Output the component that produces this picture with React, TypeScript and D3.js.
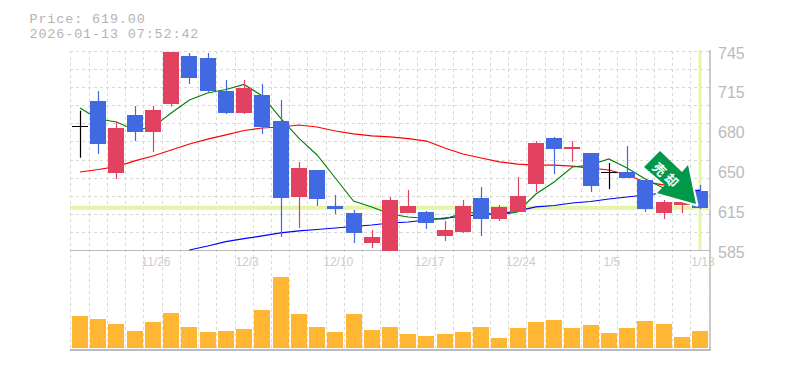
import React from "react";
import * as d3 from "d3";

const opens = [684.3,670.2,646.9,679.9,679.9,702.4,723.3,712.8,695.1,695.1,683.9,626.8,627.6,626,618,598.7,590.6,584.2,614.7,606.7,596.3,599.5,609.9,609.9,615.6,638.1,666.2,666.2,636.5,647.7,642.9,618,614.7,621.2,618.8];
const closes = [684.3,704.8,683.1,693.5,697.6,744.2,741,739.4,712.8,715.2,709.6,688.7,650.9,649.3,620.4,614.7,595.5,625.2,620.4,615.6,601.1,620.4,626.8,619.6,628.4,671,675,667.8,663,647.7,647.7,641.3,623.6,623.6,632.4];
const closesAreBlue = [0,1,0,1,0,0,1,1,1,0,1,1,0,1,1,1,0,0,0,1,0,0,1,0,0,0,1,0,1,0,1,1,0,0,1];
const highs = [697,712.8,688.3,700.8,700.8,744.2,743.4,743.4,721.7,721.7,718.5,705.6,655.8,649.3,629.2,617.2,601.1,627.6,633.2,616.4,608.3,625.2,635.7,621.2,643.7,672.6,675.9,672.6,663,654.9,668.6,641.3,625.2,624.4,637.3];
const lows = [659.2,662.2,642.1,672.6,663.8,700.2,718.5,712,694.3,694.3,678.3,595.5,602.7,620.4,613.9,590.6,586.6,584.2,614.7,601.9,592.2,598.7,596.3,608.3,615.6,631.6,646.1,655.8,631.6,634,642.9,615.6,609.9,614.7,618];
const maShort = [699.2,690.3,687.9,681.5,683.9,695.1,705.6,711.2,714,718.1,708.8,691.1,675,661.4,642.9,624.4,619.6,613.9,611.5,610.3,609.9,614.7,615.6,613.1,615.6,630,639.7,651.7,653.3,658.2,650.9,642.1,634.8,626,619.6];
const maMid = [647.7,649.7,652.1,656.6,660.6,665.4,670.2,674.2,677.5,681.1,683.1,683.9,685.5,683.9,680.7,678.3,676.7,675.9,674.6,672.6,667,662.2,659,655.8,654.1,653.3,653.3,652.5,650.9,649.3,645.3,639.7,637.3,634.8,632.4];
const maLong = [585,588.2,591.8,594.2,596.3,598.7,600.3,601.5,602.7,603.9,605.1,606.7,607.5,609.1,610.7,612.3,613.5,614.3,616.4,619.6,620.8,622.8,624,626,627.6,629.2,630.8,631.6,633.2];
const maLongStart = 6;
const volumes = [9600,8700,7200,5100,7800,10500,6300,4800,5100,5700,11400,21300,10200,6300,4800,10200,5400,6300,4200,3600,4200,4800,6300,3000,6000,7800,8400,6000,6900,4500,6000,8100,7200,3300,5100];
const priceTicks = [585,617,649,681,713,745];
const priceLabels = ["585","615","650","680","715","745"];
const dateLabels = ["11/26","12/3","12/10","12/17","12/24","1/5","1/13"];
const dateIndexes = [4,9,14,19,24,29,34];
const lastPrice = 619;
const headerLines = ["Price: 619.00","2026-01-13 07:52:42"];
const signalText = ["売","却"];

const RED = "#E24260";
const BLUE = "#4169E1";
const GRID = "#d8d8d8";
const AXIS = "#bbbbbb";
const HILITE = "#E4F5A8";

export default function App() {
  const n = opens.length;
  const x = d3.scaleLinear().domain([0, n - 1]).range([80, 700]);
  const y = d3.scaleLinear().domain([585, 745]).range([250, 51]);
  const v = d3.scaleLinear().domain([0, d3.max(volumes) as number]).range([348, 277]);
  const cx = (i: number) => Math.round(x(i));
  const hGrid = d3.range(12).map((i) => Math.round(y(585 + (i * 160) / 11)) + 0.5);
  const vGrid = d3.range(n + 1).map((i) => Math.floor(x(i) - 9.1) + 0.5);
  const line = d3.line<number>().x((_, i) => x(i)).y((d) => y(d));
  const lineLong = d3.line<number>().x((_, i) => x(i + maLongStart)).y((d) => y(d));

  return (
    <svg
      width={785}
      height={370}
      style={{ position: "absolute", left: 0, top: 0, background: "#fff" }}
    >
      <defs>
        <clipPath id="plot">
          <rect x={70} y={50} width={640} height={201} />
        </clipPath>
      </defs>
      {headerLines.map((t, i) => (
        <text
          key={t}
          x={29.5}
          y={23 + i * 15.4}
          fontFamily="'Liberation Mono', monospace"
          fontSize={13.4}
          letterSpacing={0.9}
          fill="#b4b4b4"
        >
          {t}
        </text>
      ))}
      {hGrid.map((g) => (
        <line key={g} x1={70} x2={710} y1={g} y2={g} stroke={GRID} strokeDasharray="3 3" />
      ))}
      {vGrid.map((g) => (
        <line key={g} x1={g} x2={g} y1={51} y2={350} stroke={GRID} strokeDasharray="3 3" />
      ))}
      <line x1={70} x2={710} y1={250.5} y2={250.5} stroke={AXIS} />
      <line x1={70} x2={711} y1={350} y2={350} stroke={AXIS} strokeWidth={2} />
      <line x1={710} x2={710} y1={50} y2={350} stroke={AXIS} strokeWidth={1.5} />

      {volumes.map((d, i) => (
        <rect key={i} x={cx(i) - 8} y={v(d)} width={16} height={348 - v(d)} fill="#FFB733" />
      ))}

      <g clipPath="url(#plot)">
        <line x1={70} x2={710} y1={y(lastPrice)} y2={y(lastPrice)} stroke={HILITE} strokeWidth={4} />
        <line x1={x(n - 1)} x2={x(n - 1)} y1={50} y2={250} stroke={HILITE} strokeWidth={3} />
        <path d={line(maMid) as string} fill="none" stroke="#ff0000" strokeWidth={1.2} />
        <path d={lineLong(maLong) as string} fill="none" stroke="#0000ff" strokeWidth={1.2} />
        <path d={line(maShort) as string} fill="none" stroke="#008000" strokeWidth={1.1} />
        {opens.map((o, i) => {
          const c = closes[i];
          const doji = Math.abs(o - c) < 0.01;
          const color = doji ? "#000000" : closesAreBlue[i] ? BLUE : RED;
          const top = y(Math.max(o, c));
          const bottom = y(Math.min(o, c));
          const wx = cx(i) + 0.5;
          return (
            <g key={i}>
              <line x1={wx} x2={wx} y1={y(highs[i])} y2={y(lows[i])} stroke={color} strokeWidth={1.2} />
              <rect
                x={cx(i) - 8}
                y={doji ? top - 0.5 : top}
                width={16}
                height={Math.max(bottom - top, 1)}
                fill={color}
                shapeRendering="crispEdges"
              />
            </g>
          );
        })}
      </g>

      {priceTicks.map((t, i) => (
        <text key={t} x={718} y={y(t) + 7.5} fontFamily="'Liberation Sans', sans-serif" fontSize={16} fill="#bbbbbb">
          {priceLabels[i]}
        </text>
      ))}
      {dateLabels.map((t, i) => (
        <text key={t} x={x(dateIndexes[i]) + 3} y={266} textAnchor="middle" fontFamily="'Liberation Sans', sans-serif" fontSize={12} fill="#cccccc">
          {t}
        </text>
      ))}

      <polyline points="688,165 697,205 656,193" fill="none" stroke="#ffffff" strokeWidth={3} strokeLinejoin="round" />
      <polygon
        points="660,151 682,172 688,165 696,204 657,193 665,185 644,167"
        fill="#00994A"
      />
      {signalText.map((t, i) => (
        <text
          key={t}
          transform={`translate(${660 + i * 12},${169 + i * 11}) rotate(45)`}
          textAnchor="middle"
          dominantBaseline="central"
          fontFamily="'Noto Sans CJK JP', sans-serif"
          fontWeight={700}
          fontSize={13}
          fill="#ffffff"
        >
          {t}
        </text>
      ))}
    </svg>
  );
}
